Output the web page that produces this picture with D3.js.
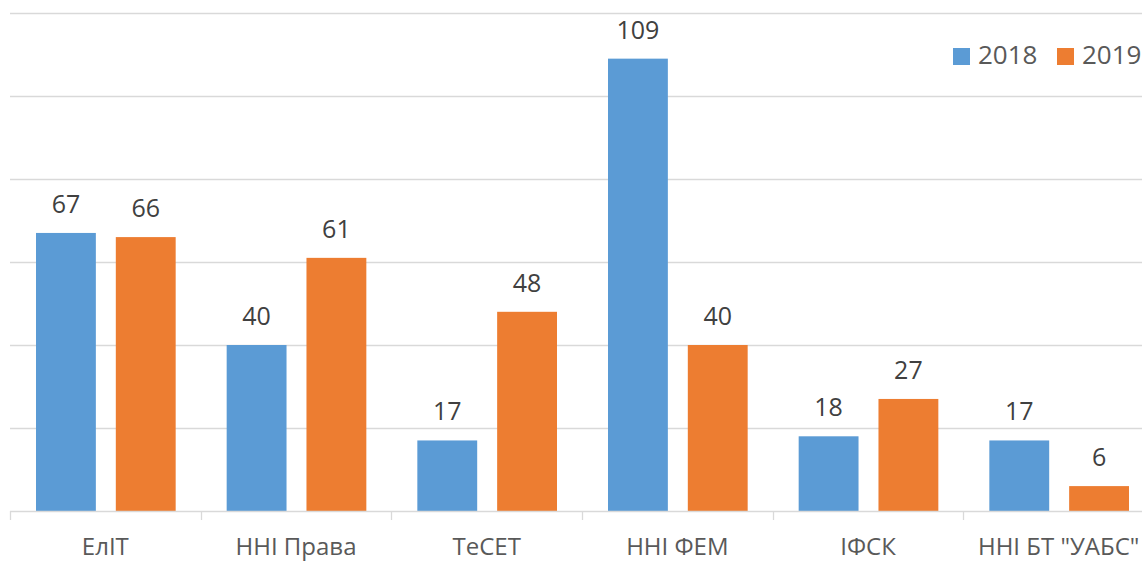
<!DOCTYPE html>
<html><head><meta charset="utf-8">
<script src="https://cdn.jsdelivr.net/npm/d3@7"></script>
<style>body{margin:0;background:#fff;overflow:hidden}</style>
</head><body>
<svg id="c" width="1142" height="562"></svg>
<script>
const categories = ["ЕлІТ", "ННІ Права", "ТеСЕТ", "ННІ ФЕМ", "ІФСК", "ННІ БТ \"УАБС\""];
const series = ["2018", "2019"];
const values2018 = [67, 40, 17, 109, 18, 17];
const values2019 = [66, 61, 48, 40, 27, 6];
const gridTicks = [0, 20, 40, 60, 80, 100, 120];
const colors = ["#5B9BD5", "#ED7D31"];

const svg = d3.select("#c");
const font = "'Open Sans', 'Noto Sans', sans-serif";
const y = d3.scaleLinear().domain([0, 120]).range([511, 13]);
const x = d3.scaleBand().domain(categories).range([10, 1154]).paddingInner(0).paddingOuter(0);
const inner = d3.scaleBand().domain(series).range([26, x.bandwidth() - 25]).paddingInner(0.25).paddingOuter(0);

// gridlines
svg.append("g").selectAll("line").data(gridTicks.slice(1)).join("line")
  .attr("x1", 10).attr("x2", 1154)
  .attr("y1", d => Math.round(y(d)) + 0.5).attr("y2", d => Math.round(y(d)) + 0.5)
  .attr("stroke", "#D9D9D9").attr("stroke-width", 1.3);

const data = categories.map((c, i) => ({c, vals: [values2018[i], values2019[i]]}));
const g = svg.append("g").selectAll("g").data(data).join("g")
  .attr("transform", d => `translate(${x(d.c)},0)`);
g.selectAll("rect").data(d => d.vals.map((v, j) => ({s: series[j], v, j}))).join("rect")
  .attr("x", d => inner(d.s)).attr("width", inner.bandwidth())
  .attr("y", d => y(d.v)).attr("height", d => y(0) - y(d.v))
  .attr("fill", d => colors[d.j]);
g.selectAll("text").data(d => d.vals.map((v, j) => ({s: series[j], v, j}))).join("text")
  .attr("x", d => inner(d.s) + inner.bandwidth() / 2)
  .attr("y", d => y(d.v) - 20)
  .attr("text-anchor", "middle").attr("font-family", font).attr("font-size", 25)
  .attr("fill", "#404040").text(d => d.v);

// x axis
const ax = svg.append("g").attr("transform", "translate(0,511)")
  .call(d3.axisBottom(x).tickSize(0).tickPadding(0));
ax.select(".domain").remove();
ax.selectAll("text").attr("y", 43.5).attr("dy", 0).attr("font-family", font).attr("font-size", 24).attr("fill", "#595959");
svg.append("line").attr("x1", 10).attr("x2", 1154).attr("y1", 511.5).attr("y2", 511.5).attr("stroke", "#D9D9D9").attr("stroke-width", 1.3);
svg.append("g").selectAll("line").data(d3.range(categories.length + 1)).join("line")
  .attr("x1", i => Math.round(10 + i * x.step()) + 0.5).attr("x2", i => Math.round(10 + i * x.step()) + 0.5)
  .attr("y1", 511).attr("y2", 520).attr("stroke", "#D9D9D9").attr("stroke-width", 1.3);

// legend
const legX = [953, 1057];
const leg = svg.append("g").selectAll("g").data(series).join("g")
  .attr("transform", (d, i) => `translate(${legX[i]},0)`);
leg.append("rect").attr("x", 0).attr("y", 48).attr("width", 17).attr("height", 17).attr("fill", (d, i) => colors[i]);
leg.append("text").attr("x", 25).attr("y", 64).attr("font-family", font).attr("font-size", 26).attr("fill", "#595959").text(d => d);
</script>
</body></html>
